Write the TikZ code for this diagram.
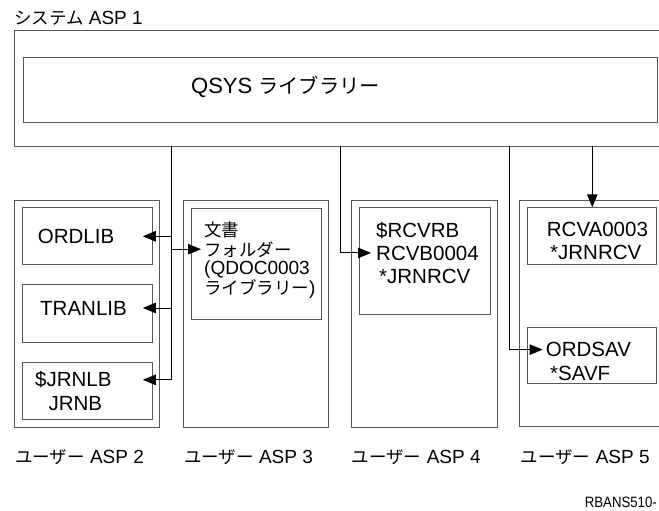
\documentclass[tikz,border=0pt]{standalone}
\usepackage{fontspec}
\usepackage{graphicx}
\setmainfont{Liberation Sans}
\newfontfamily\cjk{Noto Sans CJK JP}[Scale=0.92]
\usetikzlibrary{arrows.meta,calc}
\begin{document}
\begin{tikzpicture}[x=1pt,y=-1pt,
  box/.style={draw=black!65,line width=1pt,inner sep=0pt,anchor=north west},
  frame/.style={draw=black!65,line width=1pt},
  lbl/.style={inner sep=0pt,anchor=base west,font=\fontsize{20.5}{23}\selectfont},
  doctxt/.style={inner sep=0pt,anchor=base west,font=\fontsize{19}{21}\selectfont},
  capt/.style={inner sep=0pt,anchor=base west,font=\fontsize{19}{22}\selectfont},
  conn/.style={draw=black,line width=0.9pt},
  arr/.style={conn,-{Triangle[length=13pt,width=10.5pt]}},
]
\useasboundingbox (0,0) rectangle (659,511);

% system ASP 1
\node[capt] (sysT) at (14,25) {{\cjk システム} ASP 1};
\draw[frame] (659,31) -- (14,31) -- (14,146) -- (659,146);
\node[box,minimum width=634pt,minimum height=65pt] (qsys) at (22.7,57) {};
\node[inner sep=0pt,anchor=base west,font=\fontsize{22}{26}\selectfont] (qsysT) at (191,93) {QSYS {\cjk ライブラリー}};

% user ASP frames
\node[box,minimum width=145.3pt,minimum height=226.7pt] (asp2) at (14,200) {};
\node[box,minimum width=145.6pt,minimum height=226.7pt] (asp3) at (182.7,200) {};
\node[box,minimum width=146pt,minimum height=226.7pt] (asp4) at (350.7,200) {};
\draw[frame] (659,200) -- (519,200) -- (519,426.7) -- (659,426.7);

% inner boxes
\node[box,minimum width=130.6pt,minimum height=57pt] (ordlib) at (21.7,207.3) {};
\node[box,minimum width=130.6pt,minimum height=58pt] (tranlib) at (21.7,284.3) {};
\node[box,minimum width=130.6pt,minimum height=57.3pt] (jrnlb) at (21.7,361.7) {};
\node[box,minimum width=130.5pt,minimum height=111.5pt] (doc) at (190.5,207.8) {};
\node[box,minimum width=131pt,minimum height=107pt] (rcvb) at (358.7,207.3) {};
\node[box,minimum width=129pt,minimum height=56.7pt] (rcva) at (527.3,207.3) {};
\node[box,minimum width=129pt,minimum height=56.6pt] (ordsav) at (527.3,326.7) {};

% texts
\node[lbl] (ordlibT) at (37.7,243.3) {ORDLIB};
\node[lbl] (tranT) at (40,315) {TRANLIB};
\node[lbl] (jrnlbA) at (35,386.7) {\$JRNLB};
\node[lbl] (jrnlbB) at (48.3,410) {JRNB};
\node[doctxt] (docA) at (204,236) {{\cjk 文書}};
\node[doctxt] (docB) at (204,256) {{\cjk フォルダー}};
\node[doctxt] (docC) at (204,274.5) {(QDOC0003};
\node[doctxt] (docD) at (204,294) {{\cjk ライブラリー})};
\node[lbl] (rcvbA) at (376,237) {\$RCVRB};
\node[lbl] (rcvbB) at (376,260) {RCVB0004};
\node[lbl] (rcvbC) at (379,283) {*JRNRCV};
\node[lbl] (rcvaA) at (546.7,236) {RCVA0003};
\node[lbl] (rcvaB) at (550,259.3) {*JRNRCV};
\node[lbl] (ordsavA) at (545.7,356.7) {ORDSAV};
\node[lbl] (ordsavB) at (550,380) {*SAVF};

% captions
\node[capt] (asp2L) at (15,463) {{\cjk ユーザー} ASP 2};
\node[capt] (asp3L) at (184,463) {{\cjk ユーザー} ASP 3};
\node[capt] (asp4L) at (351.7,463) {{\cjk ユーザー} ASP 4};
\node[capt] (asp5L) at (520.7,463) {{\cjk ユーザー} ASP 5};
\node[inner sep=0pt,anchor=base east] (fig) at (657,507) {\scalebox{0.88}[1]{\fontsize{15}{15}\selectfont RBANS510-}};

% connectors
\coordinate (s1) at (171,146);
\coordinate (s2) at (340.7,146);
\coordinate (s3) at (509,146);
\coordinate (s4) at (592.3,146);
\draw[arr] (s1) |- ($(ordlib.east)+(-10.5pt,0)$);
\draw[arr] (s1) |- ($(tranlib.east |- tranT.center)+(-10.5pt,0)$);
\draw[arr] (s1) |- ($(jrnlb.east |- jrnlbA.center)+(-10.5pt,0)$);
\draw[arr] (s1) |- ($(docB.west)+(-3pt,0)$);
\draw[arr] (s2) |- ($(rcvbB.west)+(-5pt,0)$);
\draw[arr] (s3) |- ($(ordsavA.west)+(-3pt,0)$);
\draw[arr] (s4) -- (s4 |- rcva.north);
\end{tikzpicture}
\end{document}
